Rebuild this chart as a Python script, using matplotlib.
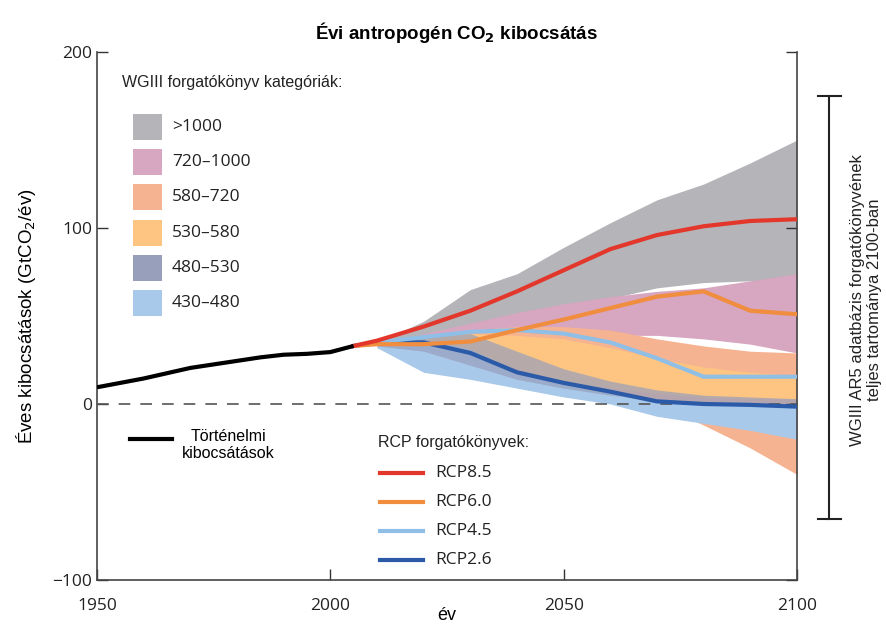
import matplotlib.pyplot as plt
from matplotlib.patches import Rectangle
from matplotlib.lines import Line2D

# historical emissions (GtCO2/yr)
hist_years = [1950, 1955, 1960, 1965, 1970, 1975, 1980, 1985, 1990, 1995, 2000, 2005]
hist_vals = [9.5, 12, 14.5, 17.5, 20.5, 22.5, 24.5, 26.5, 28, 28.5, 29.5, 33]

years = [2005, 2010, 2020, 2030, 2040, 2050, 2060, 2070, 2080, 2090, 2100]

# RCP pathways
rcp85 = [33, 36, 44, 53, 64, 76, 88, 96, 101, 104, 105]
rcp60 = [33, 34, 34, 35.5, 42, 48, 54.5, 61, 64, 53, 51]
rcp45 = [33, 35, 38, 41, 42, 40, 35, 26, 15.5, 15.5, 15.5]
rcp26 = [33, 35, 35, 29, 18, 12, 7, 1.5, 0, -0.5, -1.5]

# WGIII scenario category ranges (upper / lower)
band_years = [2010, 2020, 2030, 2040, 2050, 2060, 2070, 2080, 2090, 2100]
gt1000_hi = [35, 47, 65, 74, 89, 103, 116, 125, 137, 150]
gt1000_lo = [33, 36, 40, 45, 52, 60, 66, 69, 70, 66]
c720_hi = [34, 40, 46, 52, 57, 61, 64, 66, 70, 74]
c720_lo = [33, 34, 36, 38, 39, 39, 39, 37, 34, 29]
c580_hi = [34, 38, 42, 44, 44, 42, 37, 33, 30, 29]
c580_lo = [32, 30, 25, 18, 10, 5, 0, -12, -25, -40]
c530_hi = [34, 37, 40, 39, 37, 32, 26, 21, 18, 16]
c530_lo = [33, 32, 28, 20, 13, 9, 6, 4, 3, 3]
c480_hi = [34, 38, 40, 30, 20, 13, 8, 5, 4, 3]
c480_lo = [33, 30, 22, 14, 9, 5, 2, 0.5, 0, -1]
c430_hi = [35, 37, 31, 19, 12, 7, 2, 0.5, -0.5, -1.5]
c430_lo = [32, 18, 14, 9, 4, 0, -7, -11, -15, -20]

cat_labels = [">1000", "720\u20131000", "580\u2013720", "530\u2013580", "480\u2013530", "430\u2013480"]
cat_colors = ["#b4b4b9", "#d7a6c0", "#f6b391", "#fdc581", "#979fbb", "#a9c9ea"]
rcp_labels = ["RCP8.5", "RCP6.0", "RCP4.5", "RCP2.6"]
rcp_colors = ["#e3372c", "#f08d3e", "#8fbfe6", "#2b5aa9"]

fig = plt.figure(figsize=(8.86, 6.30), dpi=100)
ax = fig.add_axes([0.1095, 0.0794, 0.79, 0.838])

bands = [(gt1000_lo, gt1000_hi), (c720_lo, c720_hi), (c580_lo, c580_hi),
         (c530_lo, c530_hi), (c430_lo, c430_hi), (c480_lo, c480_hi)]
order = [0, 1, 2, 3, 5, 4]
for (lo, hi), ci in zip(bands, order):
    alpha = 0.7 if ci == 4 else 1.0
    ax.fill_between(band_years, lo, hi, color=cat_colors[ci], lw=0, alpha=alpha)

ax.axhline(0, color="#555555", lw=1.2, ls=(0, (7, 6)), zorder=3)

ax.plot(hist_years, hist_vals, color="black", lw=3, solid_capstyle="butt", zorder=5)
for vals, col in zip([rcp26, rcp45, rcp60, rcp85], rcp_colors[::-1]):
    ax.plot(years, vals, color=col, lw=3, zorder=4)

ax.set_xlim(1950, 2100)
ax.set_ylim(-100, 200)
ax.set_xticks([1950, 2000, 2050, 2100])
ax.set_yticks([-100, 0, 100, 200])
ax.set_yticklabels(["\u2212100", "0", "100", "200"])
ax.tick_params(direction="in", length=8, width=1, labelsize=12.5, right=True,
               colors="#333333", labelcolor="#222222")
ax.tick_params(axis="x", pad=13)
for lab in ax.get_xticklabels() + ax.get_yticklabels():
    lab.set_family("Open Sans")
ax.spines["top"].set_visible(False)
for s in ["left", "right", "bottom"]:
    ax.spines[s].set_color("#444444")
    ax.spines[s].set_linewidth(1.2)

ax.set_xlabel("év", fontsize=13, family="Liberation Sans", labelpad=-5)
ax.set_ylabel("Éves kibocsátások (GtCO$_2$/év)", fontsize=13.5,
              family="Liberation Sans", labelpad=10)

fig.text(0.515, 0.949, r"Évi antropogén CO$_\mathbf{2}$ kibocsátás", ha="center",
         va="center", fontsize=13.5, weight="bold", family="Liberation Sans")

# category legend
tr = fig.transFigure
W, H = 886, 630
fig.text(122 / W, 1 - 83 / H, "WGIII forgatókönyv kategóriák:", fontsize=11.5,
         family="Liberation Sans", va="center", color="#222222")
for i, (lab, col) in enumerate(zip(cat_labels, cat_colors)):
    yc = 127 + i * 35.2
    fig.patches.append(Rectangle((133 / W, 1 - (yc + 13) / H), 29 / W, 26 / H,
                                 transform=tr, color=col, lw=0))
    fig.text(172 / W, 1 - yc / H, lab, fontsize=12.5, family="Open Sans",
             va="center", color="#222222")

# historical legend
fig.lines.append(Line2D([130 / W, 172 / W], [1 - 439 / H, 1 - 439 / H],
                        transform=tr, color="black", lw=3))
fig.text(228 / W, 1 - 445 / H, "Történelmi\nkibocsátások", fontsize=11.5,
         family="Liberation Sans", ha="center", va="center", linespacing=1.15)

# RCP legend
fig.text(378 / W, 1 - 443 / H, "RCP forgatókönyvek:", fontsize=11.5,
         family="Liberation Sans", va="center", color="#222222")
for i, (lab, col) in enumerate(zip(rcp_labels, rcp_colors)):
    yc = 473 + i * 29
    fig.lines.append(Line2D([380 / W, 423 / W], [1 - yc / H, 1 - yc / H],
                            transform=tr, color=col, lw=3))
    fig.text(435 / W, 1 - yc / H, lab, fontsize=12.5, family="Open Sans",
             va="center", color="#222222")

# full range bar at 2100
xb = 829 / W
fig.lines.append(Line2D([xb, xb], [1 - 96 / H, 1 - 519 / H], transform=tr,
                        color="#222222", lw=1.5))
for yy in [96, 519]:
    fig.lines.append(Line2D([818 / W, 841 / W], [1 - yy / H, 1 - yy / H],
                            transform=tr, color="#222222", lw=1.5))
fig.text(866 / W, 1 - 300 / H,
         "WGIII AR5 adatbázis forgatókönyvének\nteljes tartománya 2100-ban",
         rotation=90, ha="center", va="center", fontsize=12,
         family="Liberation Sans", linespacing=1.1, color="#222222")

fig.savefig("out.png", dpi=100)
